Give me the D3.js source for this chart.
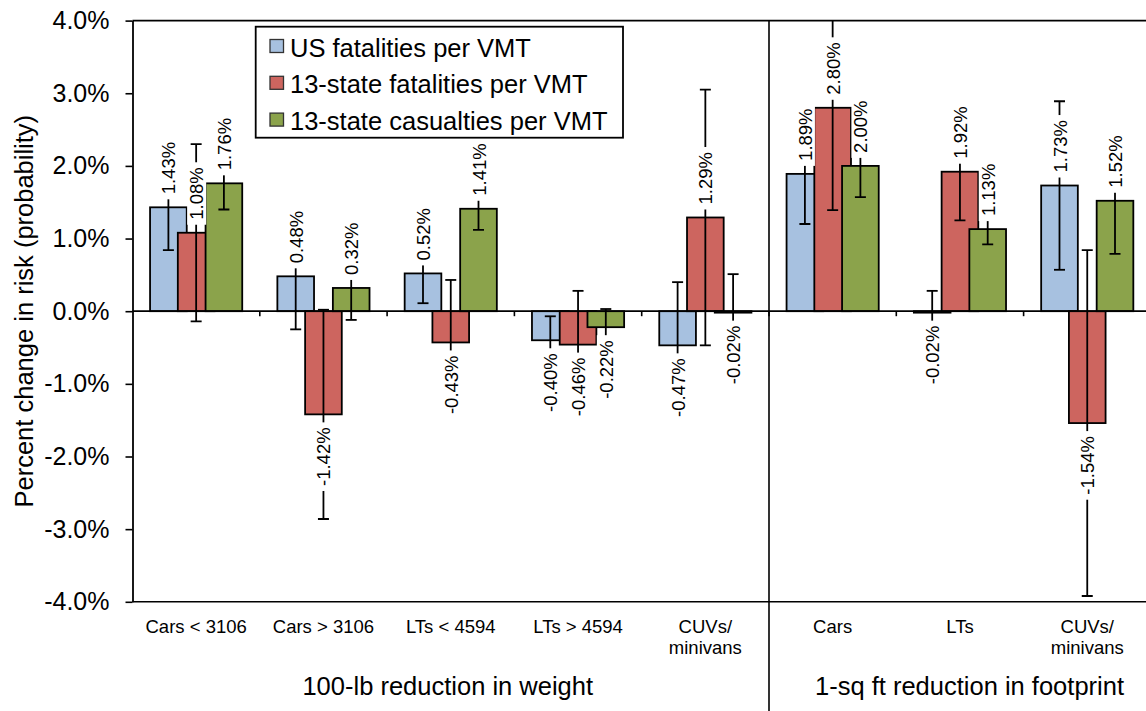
<!DOCTYPE html>
<html>
<head>
<meta charset="utf-8">
<script src="https://cdn.jsdelivr.net/npm/d3@7"></script>
<style>
  html, body { margin: 0; padding: 0; background: #fff; }
  svg { display: block; font-family: "Liberation Sans", Arial, sans-serif; }
</style>
</head>
<body>
<svg id="chart" width="1146" height="711"></svg>
<script>
// ---------------- data ----------------
const categories = ["Cars < 3106", "Cars > 3106", "LTs < 4594", "LTs > 4594", "CUVs/\nminivans", "Cars", "LTs", "CUVs/\nminivans"];
const groupLabels = ["100-lb reduction in weight", "1-sq ft reduction in footprint"];
const groupSizes = [5, 3];
const seriesNames = ["US fatalities per VMT", "13-state fatalities per VMT", "13-state casualties per VMT"];
const usFatalities = [1.43, 0.48, 0.52, -0.40, -0.47, 1.89, -0.02, 1.73];
const stateFatalities = [1.08, -1.42, -0.43, -0.46, 1.29, 2.80, 1.92, -1.54];
const stateCasualties = [1.76, 0.32, 1.41, -0.22, -0.02, 2.00, 1.13, 1.52];
const usFatalitiesErr = [0.59, 0.73, 0.41, 0.33, 0.87, 0.69, 0.30, 1.16];
const stateFatalitiesErr = [1.22, 1.44, 0.86, 0.74, 1.76, 1.41, 0.67, 2.38];
const stateCasualtiesErr = [0.36, 0.44, 0.29, 0.25, 0.53, 0.43, 0.21, 0.73];
const yTicks = [-4, -3, -2, -1, 0, 1, 2, 3, 4];
const seriesColors = ["#A7C1E0", "#CD655F", "#8BA34B"];

const seriesValues = [usFatalities, stateFatalities, stateCasualties];
const seriesErrors = [usFatalitiesErr, stateFatalitiesErr, stateCasualtiesErr];

// ---------------- layout ----------------
const svg = d3.select("#chart");
const plotLeft = 132.5, plotTop = 20.6, plotBottom = 601.8;
const bandW = 127.3;
const plotRight = plotLeft + bandW * categories.length;

const x = d3.scaleBand().domain(d3.range(categories.length)).range([plotLeft, plotRight]).padding(0);
const sub = d3.scalePoint().domain(d3.range(seriesNames.length)).range([-x.bandwidth() * 0.218, x.bandwidth() * 0.218]);
const barW = x.bandwidth() * 0.288;
const y = d3.scaleLinear().domain([-4, 4]).range([plotBottom, plotTop]);

const fmtTick = v => v.toFixed(1) + "%";
const fmtLabel = v => v.toFixed(2) + "%";

svg.append("defs").append("clipPath").attr("id", "plotClip")
  .append("rect").attr("x", plotLeft).attr("y", plotTop)
  .attr("width", plotRight - plotLeft).attr("height", plotBottom - plotTop);

// frame top and bottom lines
svg.append("line").attr("x1", plotLeft).attr("x2", plotRight).attr("y1", plotTop).attr("y2", plotTop)
  .attr("stroke", "#000").attr("stroke-width", 1.6);
svg.append("line").attr("x1", plotLeft).attr("x2", plotRight).attr("y1", plotBottom).attr("y2", plotBottom)
  .attr("stroke", "#000").attr("stroke-width", 1.6);

// y axis
const yAxis = svg.append("g").attr("transform", `translate(${plotLeft},0)`)
  .call(d3.axisLeft(y).tickValues(yTicks).tickFormat(fmtTick).tickSize(7).tickSizeOuter(0).tickPadding(16));
yAxis.select(".domain").attr("stroke", "#000").attr("stroke-width", 1.8);
yAxis.selectAll(".tick line").attr("stroke", "#000").attr("stroke-width", 1.6);
yAxis.selectAll(".tick text").attr("font-size", 25).attr("fill", "#000")
  .attr("font-family", "Liberation Sans, Arial, sans-serif");

// y title
svg.append("text")
  .attr("transform", `translate(24,${y(0)}) rotate(-90)`)
  .attr("text-anchor", "middle").attr("dy", "0.36em")
  .attr("font-size", 25.5).text("Percent change in risk (probability)");

// bars
const barsLayer = svg.append("g");
seriesValues.forEach((vals, s) => {
  barsLayer.append("g").selectAll("rect").data(vals).join("rect")
    .attr("x", (d, i) => x(i) + x.bandwidth() / 2 + sub(s) - barW / 2)
    .attr("width", barW)
    .attr("y", d => Math.min(y(d), y(0)))
    .attr("height", d => Math.max(Math.abs(y(d) - y(0)), 0.5))
    .attr("fill", seriesColors[s])
    .attr("stroke", "#000").attr("stroke-width", 1.8);
});

// zero line + category boundary ticks
svg.append("line").attr("x1", plotLeft).attr("x2", plotRight).attr("y1", y(0)).attr("y2", y(0))
  .attr("stroke", "#000").attr("stroke-width", 1.8);
svg.append("g").selectAll("line").data(d3.range(1, categories.length)).join("line")
  .attr("x1", i => x(i)).attr("x2", i => x(i))
  .attr("y1", y(0)).attr("y2", y(0) + 5)
  .attr("stroke", "#000").attr("stroke-width", 1.6);

// error bars
const errLayer = svg.append("g").attr("clip-path", "url(#plotClip)");
const capHalf = 5.5;
seriesValues.forEach((vals, s) => {
  const errs = seriesErrors[s];
  vals.forEach((v, i) => {
    const cx = x(i) + x.bandwidth() / 2 + sub(s);
    const y1 = y(v + errs[i]), y2 = y(v - errs[i]);
    const g = errLayer.append("g").attr("stroke", "#000").attr("stroke-width", 1.8);
    g.append("line").attr("x1", cx).attr("x2", cx).attr("y1", y1).attr("y2", y2);
    g.append("line").attr("x1", cx - capHalf).attr("x2", cx + capHalf).attr("y1", y1).attr("y2", y1);
    g.append("line").attr("x1", cx - capHalf).attr("x2", cx + capHalf).attr("y1", y2).attr("y2", y2);
  });
});

// data labels with white boxes
const labelLayer = svg.append("g");
const labelGap = 13;
seriesValues.forEach((vals, s) => {
  vals.forEach((v, i) => {
    const cx = x(i) + x.bandwidth() / 2 + sub(s);
    const pos = v >= 0;
    const ya = pos ? y(v) - labelGap : y(v) + labelGap;
    const g = labelLayer.append("g").attr("transform", `translate(${cx},${ya}) rotate(-90)`);
    const t = g.append("text")
      .attr("text-anchor", pos ? "start" : "end")
      .attr("dy", "0.38em")
      .attr("font-size", 18.5)
      .text(fmtLabel(v));
    const bb = t.node().getBBox();
    g.insert("rect", "text")
      .attr("x", bb.x - 5).attr("y", bb.y + 1)
      .attr("width", bb.width + 10).attr("height", bb.height - 2)
      .attr("fill", "#fff");
  });
});

// group separator
let acc = 0;
groupSizes.slice(0, -1).forEach(n => {
  acc += n;
  svg.append("line").attr("x1", x(acc)).attr("x2", x(acc)).attr("y1", plotTop).attr("y2", 711)
    .attr("stroke", "#000").attr("stroke-width", 1.6);
});

// category labels
const catLayer = svg.append("g").attr("font-size", 18.5).attr("text-anchor", "middle");
categories.forEach((c, i) => {
  const t = catLayer.append("text").attr("x", x(i) + x.bandwidth() / 2).attr("y", 632.5);
  c.split("\n").forEach((line, k) => {
    t.append("tspan").attr("x", x(i) + x.bandwidth() / 2).attr("dy", k === 0 ? 0 : 21).text(line);
  });
});

// group labels (the last group's span runs past the visible right edge)
acc = 0;
const visibleRight = 1176;
groupLabels.forEach((g, gi) => {
  const start = acc, end = acc + groupSizes[gi];
  acc = end;
  const right = gi === groupLabels.length - 1 ? visibleRight : x(end - 1) + x.bandwidth();
  const cx = (x(start) + right) / 2 - 3;
  svg.append("text").attr("x", cx).attr("y", 695).attr("text-anchor", "middle")
    .attr("font-size", 25.5).text(g);
});

// legend
const legend = svg.append("g");
legend.append("rect").attr("x", 255.7).attr("y", 26.7).attr("width", 367.3).attr("height", 111)
  .attr("fill", "#fff").attr("stroke", "#000").attr("stroke-width", 1.8);
seriesNames.forEach((name, s) => {
  const cy = 46 + s * 36.8;
  legend.append("rect").attr("x", 270).attr("y", cy - 6.5).attr("width", 13.5).attr("height", 13)
    .attr("fill", seriesColors[s]).attr("stroke", "#333").attr("stroke-width", 1.3);
  legend.append("text").attr("x", 290).attr("y", cy + 10.5).attr("font-size", 25.5).text(name);
});
</script>
</body>
</html>
